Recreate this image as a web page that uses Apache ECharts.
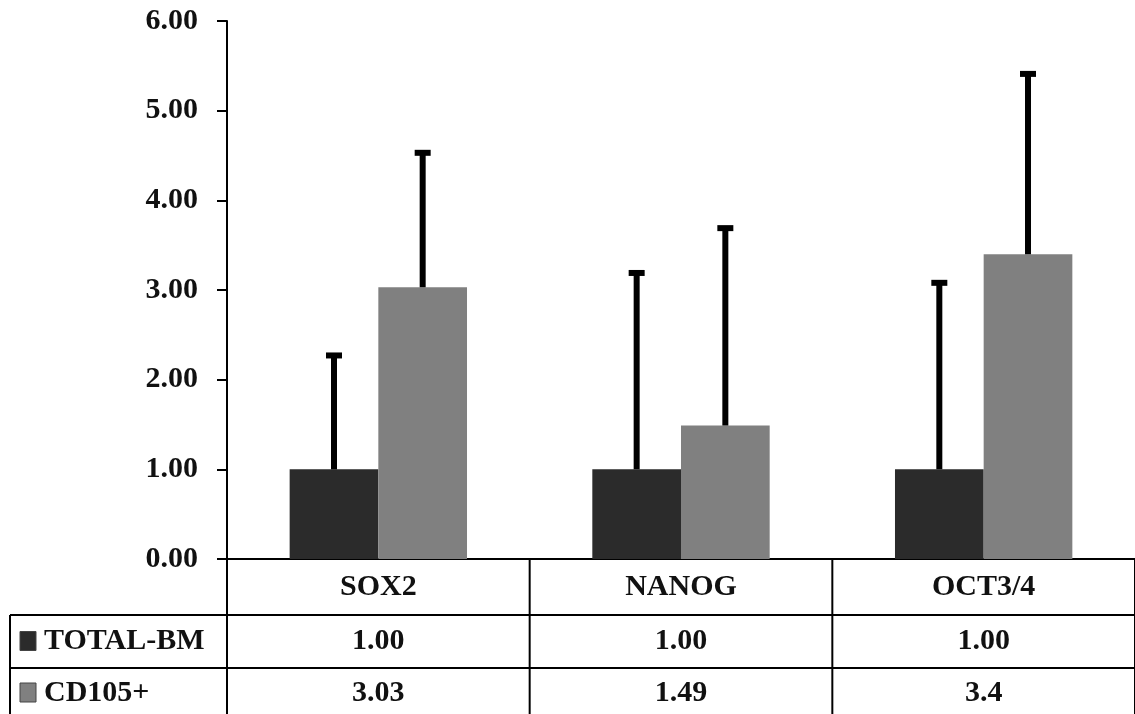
<!DOCTYPE html>
<html>
<head>
<meta charset="utf-8">
<script src="https://cdn.jsdelivr.net/npm/echarts@6/dist/echarts.min.js"></script>
<style>html,body{margin:0;padding:0;background:#fff}#c{width:1135px;height:714px}</style>
</head>
<body>
<div id="c"></div>
<script>
const categories = ['SOX2', 'NANOG', 'OCT3/4'];
const seriesNames = ['TOTAL-BM', 'CD105+'];
const totalBM = [1.00, 1.00, 1.00];
const cd105 = [3.03, 1.49, 3.40];
const totalBMErr = [1.27, 2.19, 2.08];
const cd105Err = [1.50, 2.20, 2.01];
const totalBMLabels = ['1.00', '1.00', '1.00'];
const cd105Labels = ['3.03', '1.49', '3.4'];
const yTicks = [0, 1, 2, 3, 4, 5, 6];

const FONT = '"Liberation Serif", "Times New Roman", serif';
const colors = ['#2b2b2b', '#808080'];
const BAR_PCT = 0.293;

const chart = echarts.init(document.getElementById('c'));

function errItem(side) {
  return function (params, api) {
    const idx = api.value(0), v = api.value(1), e = api.value(2);
    const band = api.size([1, 0])[0];
    const bw = band * BAR_PCT;
    const cx = api.coord([idx, 0])[0] + side * bw / 2;
    const yb = api.coord([idx, v])[1];
    const yt = api.coord([idx, v + e])[1];
    return {
      type: 'group',
      children: [
        { type: 'line', shape: { x1: cx, y1: yb, x2: cx, y2: yt }, style: { stroke: '#000', lineWidth: 6 } },
        { type: 'rect', shape: { x: cx - 8, y: yt - 3, width: 16, height: 6 }, style: { fill: '#000' } }
      ]
    };
  };
}

const option = {
  animation: false,
  backgroundColor: '#fff',
  grid: { left: 227, right: -4, top: 21, bottom: 155 },
  xAxis: {
    type: 'category', data: categories,
    axisLine: { lineStyle: { color: '#000', width: 2 } },
    axisTick: { show: false }, axisLabel: { show: false }
  },
  yAxis: {
    type: 'value', min: yTicks[0], max: yTicks[yTicks.length - 1], interval: 1,
    axisLine: { show: true, lineStyle: { color: '#000', width: 2 } },
    axisTick: { show: true, length: 10, lineStyle: { color: '#000', width: 2 } },
    splitLine: { show: false },
    axisLabel: { formatter: v => v.toFixed(2), fontFamily: FONT, fontWeight: 'bold', fontSize: 30, color: '#111', margin: 29 }
  },
  series: [
    { name: seriesNames[0], type: 'bar', data: totalBM, barWidth: (BAR_PCT * 100) + '%', barGap: '0%', itemStyle: { color: colors[0] } },
    { name: seriesNames[1], type: 'bar', data: cd105, barWidth: (BAR_PCT * 100) + '%', barGap: '0%', itemStyle: { color: colors[1] } },
    { type: 'custom', renderItem: errItem(-1), data: totalBM.map((v, i) => [i, v, totalBMErr[i]]), z: 5 },
    { type: 'custom', renderItem: errItem(1), data: cd105.map((v, i) => [i, v, cd105Err[i]]), z: 5 }
  ]
};
chart.setOption(option);

// Data table under the chart
const p0 = chart.convertToPixel({ gridIndex: 0 }, [0, 0]);
const p1 = chart.convertToPixel({ gridIndex: 0 }, [1, 0]);
const band = p1[0] - p0[0];
const axisY = p0[1];
const leftX = p0[0] - band / 2;
const rightX = leftX + band * categories.length;
const tableLeft = 10, row1 = 615, row2 = 668, bottom = 714;
const lineStyle = { stroke: '#000', lineWidth: 2 };
const g = [];
for (let k = 0; k <= categories.length; k++) {
  const x = leftX + k * band;
  g.push({ type: 'line', shape: { x1: x, y1: axisY, x2: x, y2: bottom }, style: lineStyle });
}
g.push({ type: 'line', shape: { x1: tableLeft, y1: row1, x2: tableLeft, y2: bottom }, style: lineStyle });
g.push({ type: 'line', shape: { x1: tableLeft, y1: row1, x2: rightX, y2: row1 }, style: lineStyle });
g.push({ type: 'line', shape: { x1: tableLeft, y1: row2, x2: rightX, y2: row2 }, style: lineStyle });
const txt = (x, y, t, align) => ({ type: 'text', x, y, style: { text: t, fontFamily: FONT, fontWeight: 'bold', fontSize: 30, fill: '#111', align: align || 'center', verticalAlign: 'middle' } });
const rowY = [(axisY + row1) / 2, (row1 + row2) / 2, 693];
categories.forEach((c, i) => {
  const cx = chart.convertToPixel({ xAxisIndex: 0 }, i);
  g.push(txt(cx, rowY[0], c));
  g.push(txt(cx, rowY[1], totalBMLabels[i]));
  g.push(txt(cx, rowY[2], cd105Labels[i]));
});
[1, 2].forEach((r, s) => {
  const cy = rowY[r];
  g.push({ type: 'rect', shape: { x: 20, y: cy - 10, width: 16, height: 19 }, style: { fill: colors[s], stroke: '#444', lineWidth: 1 } });
  g.push(txt(44, cy, seriesNames[s], 'left'));
});
chart.setOption({ graphic: g });
</script>
</body>
</html>
